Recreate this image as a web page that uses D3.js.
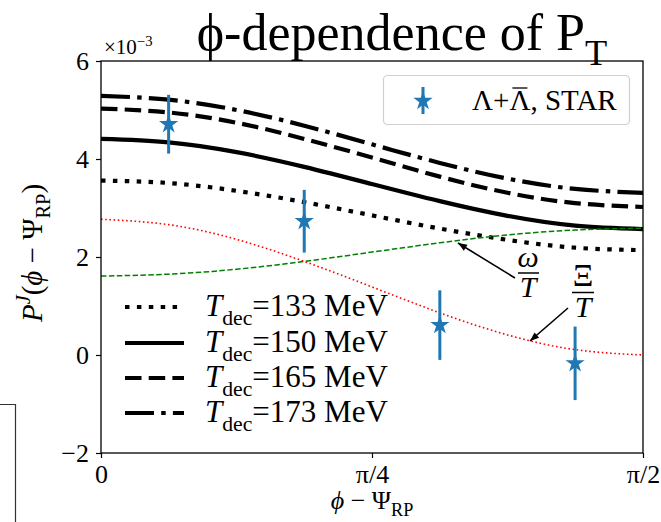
<!DOCTYPE html>
<html lang="en">
<head>
<meta charset="utf-8">
<title>phi-dependence of P_T</title>
<script type="text/javascript" src="https://d3js.org/d3.v7.min.js"></script>
<style type="text/css">
  body { margin: 0; background: #fff; }
  text { font-family: "Liberation Serif", "DejaVu Serif", serif; fill: #000; }
</style>
</head>
<body>
<script type="text/javascript">
// values in units of 1e-3
var phi   = [0, 0.196, 0.393, 0.589, 0.785, 0.982, 1.178, 1.374, 1.571];
var t133  = [3.56, 3.51, 3.35, 3.12, 2.85, 2.58, 2.35, 2.19, 2.14];
var t150  = [4.41, 4.34, 4.14, 3.84, 3.49, 3.14, 2.84, 2.64, 2.57];
var t165  = [5.03, 4.95, 4.74, 4.41, 4.03, 3.64, 3.31, 3.10, 3.02];
var t173  = [5.29, 5.21, 5.00, 4.68, 4.30, 3.92, 3.60, 3.39, 3.31];
var omegaT = [1.61, 1.65, 1.75, 1.91, 2.10, 2.29, 2.45, 2.55, 2.59];
var xiT    = [2.77, 2.66, 2.36, 1.91, 1.39, 0.86, 0.41, 0.11, 0.00];

var starPhi = [0.196, 0.589, 0.982, 1.374];
var starP   = [4.71, 2.73, 0.61, -0.17];
var starErr = [0.60, 0.64, 0.71, 0.75];

var xTicks = [0, Math.PI / 4, Math.PI / 2];
var xTickLabels = ["0", "π/4", "π/2"];
var yTicks = [-2, 0, 2, 4, 6];
var tdecLabels = ["133", "150", "165", "173"];

var W = 661, H = 522;
var pL = 101, pR = 643, pT = 61, pB = 453;

var svg = d3.select("body").append("svg")
    .attr("width", W).attr("height", H);

var x = d3.scaleLinear().domain([0, Math.PI / 2]).range([pL, pR]);
var y = d3.scaleLinear().domain([-2, 6]).range([pB, pT]);

// helper for text with sub/superscripts
function rich(t, parts, size) {
    var off = 0;
    parts.forEach(function(p) {
        var target = p.sub ? 0.28 * size : (p.sup ? -0.4 * size : 0);
        var ts = t.append("tspan").text(p.t)
            .attr("font-size", (p.sub || p.sup) ? size * 0.7 : size)
            .attr("font-style", p.i ? "italic" : "normal");
        if (target !== off) { ts.attr("dy", target - off); off = target; }
    });
}

// stray frame from neighbouring panel
svg.append("path")
    .attr("d", "M0,404.5H15.5V522")
    .attr("fill", "none").attr("stroke", "#333").attr("stroke-width", 1.2);

svg.append("clipPath").attr("id", "plot")
    .append("rect").attr("x", pL).attr("y", pT)
    .attr("width", pR - pL).attr("height", pB - pT);

var plot = svg.append("g").attr("clip-path", "url(#plot)");

var line = d3.line()
    .x(function(d) { return x(d[0]); })
    .y(function(d) { return y(d[1]); })
    .curve(d3.curveNatural);

function pts(arr) { return phi.map(function(p, i) { return [p, arr[i]]; }); }

var styles = [
    { data: t133, dash: "4.5,7.4" },
    { data: t150, dash: null },
    { data: t165, dash: "16.5,7.2" },
    { data: t173, dash: "29,7.2,4.5,7.2" }
];

styles.forEach(function(s) {
    plot.append("path")
        .attr("d", line(pts(s.data)))
        .attr("fill", "none").attr("stroke", "#000")
        .attr("stroke-width", 4.2)
        .attr("stroke-dasharray", s.dash);
});

plot.append("path")
    .attr("d", line(pts(omegaT)))
    .attr("fill", "none").attr("stroke", "green")
    .attr("stroke-width", 1.5).attr("stroke-dasharray", "5.5,2.4");

plot.append("path")
    .attr("d", line(pts(xiT)))
    .attr("fill", "none").attr("stroke", "red")
    .attr("stroke-width", 1.6).attr("stroke-dasharray", "1.6,2.6");

// STAR points
var blue = "#1f77b4";
var star = d3.symbol().type(d3.symbolStar).size(115);
starPhi.forEach(function(p, i) {
    svg.append("line")
        .attr("x1", x(p)).attr("x2", x(p))
        .attr("y1", y(starP[i] - starErr[i])).attr("y2", y(starP[i] + starErr[i]))
        .attr("stroke", blue).attr("stroke-width", 3);
    svg.append("path").attr("d", star)
        .attr("transform", "translate(" + x(p) + "," + y(starP[i]) + ")")
        .attr("fill", blue);
});

// annotations
function arrow(x1, y1, x2, y2) {
    svg.append("line").attr("x1", x1).attr("y1", y1).attr("x2", x2).attr("y2", y2)
        .attr("stroke", "#000").attr("stroke-width", 1.6);
    var a = Math.atan2(y2 - y1, x2 - x1), L = 9, w = 3.5;
    var bx = x2 - L * Math.cos(a), by = y2 - L * Math.sin(a);
    svg.append("path")
        .attr("d", "M" + x2 + "," + y2 +
            "L" + (bx - w * Math.sin(a)) + "," + (by + w * Math.cos(a)) +
            "L" + (bx + w * Math.sin(a)) + "," + (by - w * Math.cos(a)) + "Z")
        .attr("fill", "#000");
}
arrow(515, 278, 458, 243);
arrow(568, 308, 530, 341);

svg.append("text").attr("x", 528).attr("y", 267).attr("text-anchor", "middle")
    .attr("font-size", 30).attr("font-style", "italic").text("ω");
svg.append("line").attr("x1", 518).attr("x2", 539).attr("y1", 273).attr("y2", 273)
    .attr("stroke", "#000").attr("stroke-width", 1.5);
svg.append("text").attr("x", 528).attr("y", 297).attr("text-anchor", "middle")
    .attr("font-size", 30).attr("font-style", "italic").text("T");

svg.append("text").attr("x", 583).attr("y", 286).attr("text-anchor", "middle")
    .attr("font-size", 32).text("Ξ");
svg.append("line").attr("x1", 572).attr("x2", 594).attr("y1", 292.5).attr("y2", 292.5)
    .attr("stroke", "#000").attr("stroke-width", 1.5);
svg.append("text").attr("x", 583).attr("y", 317).attr("text-anchor", "middle")
    .attr("font-size", 30).attr("font-style", "italic").text("T");

// axes
var yAxis = svg.append("g").attr("transform", "translate(" + pL + ",0)")
    .call(d3.axisLeft(y).tickValues(yTicks).tickSize(5).tickPadding(7)
        .tickFormat(function(d) { return d < 0 ? "−" + Math.abs(d) : d; }));
var xAxis = svg.append("g").attr("transform", "translate(0," + pB + ")")
    .call(d3.axisBottom(x).tickValues(xTicks).tickSize(5).tickPadding(6)
        .tickFormat(function(d, i) { return xTickLabels[i]; }));
[xAxis, yAxis].forEach(function(g) {
    g.select(".domain").remove();
    g.selectAll(".tick line").attr("stroke", "#000").attr("stroke-width", 1.2);
    g.selectAll("text").attr("font-family", "Liberation Serif").attr("font-size", 26).attr("fill", "#000");
});
xAxis.selectAll("text").attr("dy", "0.72em");

svg.append("rect").attr("x", pL).attr("y", pT)
    .attr("width", pR - pL).attr("height", pB - pT)
    .attr("fill", "none").attr("stroke", "#000").attr("stroke-width", 1.3);

// offset text
var off = svg.append("text").attr("x", 104).attr("y", 54).attr("font-size", 21);
rich(off, [{ t: "×10" }, { t: "−3", sup: true }], 21);

// title
var title = svg.append("text").attr("x", 402).attr("y", 50)
    .attr("text-anchor", "middle").attr("font-size", 52);
rich(title, [{ t: "ϕ-dependence of P" }, { t: "T", sub: true }], 52);

// axis labels
var xl = svg.append("text").attr("x", 372).attr("y", 509)
    .attr("text-anchor", "middle");
rich(xl, [{ t: "ϕ", i: true }, { t: " − Ψ" }, { t: "RP", sub: true }], 26);

var yl = svg.append("text").attr("transform", "translate(42,253) rotate(-90)")
    .attr("text-anchor", "middle");
rich(yl, [{ t: "P", i: true }, { t: "J", i: true, sup: true }, { t: "(" },
          { t: "ϕ", i: true }, { t: " − Ψ" }, { t: "RP", sub: true }, { t: ")" }], 29);

// upper legend
svg.append("rect").attr("x", 383.5).attr("y", 75.5).attr("width", 246).attr("height", 49)
    .attr("rx", 4).attr("fill", "#fff").attr("stroke", "#d0d0d0").attr("stroke-width", 1.2);
svg.append("line").attr("x1", 423).attr("x2", 423).attr("y1", 87).attr("y2", 114)
    .attr("stroke", blue).attr("stroke-width", 3);
svg.append("path").attr("d", star).attr("transform", "translate(423,101)").attr("fill", blue);
var lg = svg.append("text").attr("x", 472).attr("y", 110).attr("font-size", 29).text("Λ+Λ, STAR");
// bar over the second Lambda
var lgNode = lg.node();
var ext = lgNode.getExtentOfChar(2);
svg.append("line").attr("x1", ext.x + 3).attr("x2", ext.x + ext.width - 3)
    .attr("y1", 88).attr("y2", 88).attr("stroke", "#000").attr("stroke-width", 1.3);

// lower legend
var rowY = [307, 343, 378, 413];
styles.forEach(function(s, i) {
    svg.append("line").attr("x1", 125).attr("x2", 184)
        .attr("y1", rowY[i]).attr("y2", rowY[i])
        .attr("stroke", "#000").attr("stroke-width", 4.2)
        .attr("stroke-dasharray", s.dash);
    var t = svg.append("text").attr("x", 205).attr("y", rowY[i] + 9);
    rich(t, [{ t: "T", i: true }, { t: "dec", sub: true }, { t: "=" + tdecLabels[i] + " MeV" }], 31);
});
</script>
</body>
</html>
